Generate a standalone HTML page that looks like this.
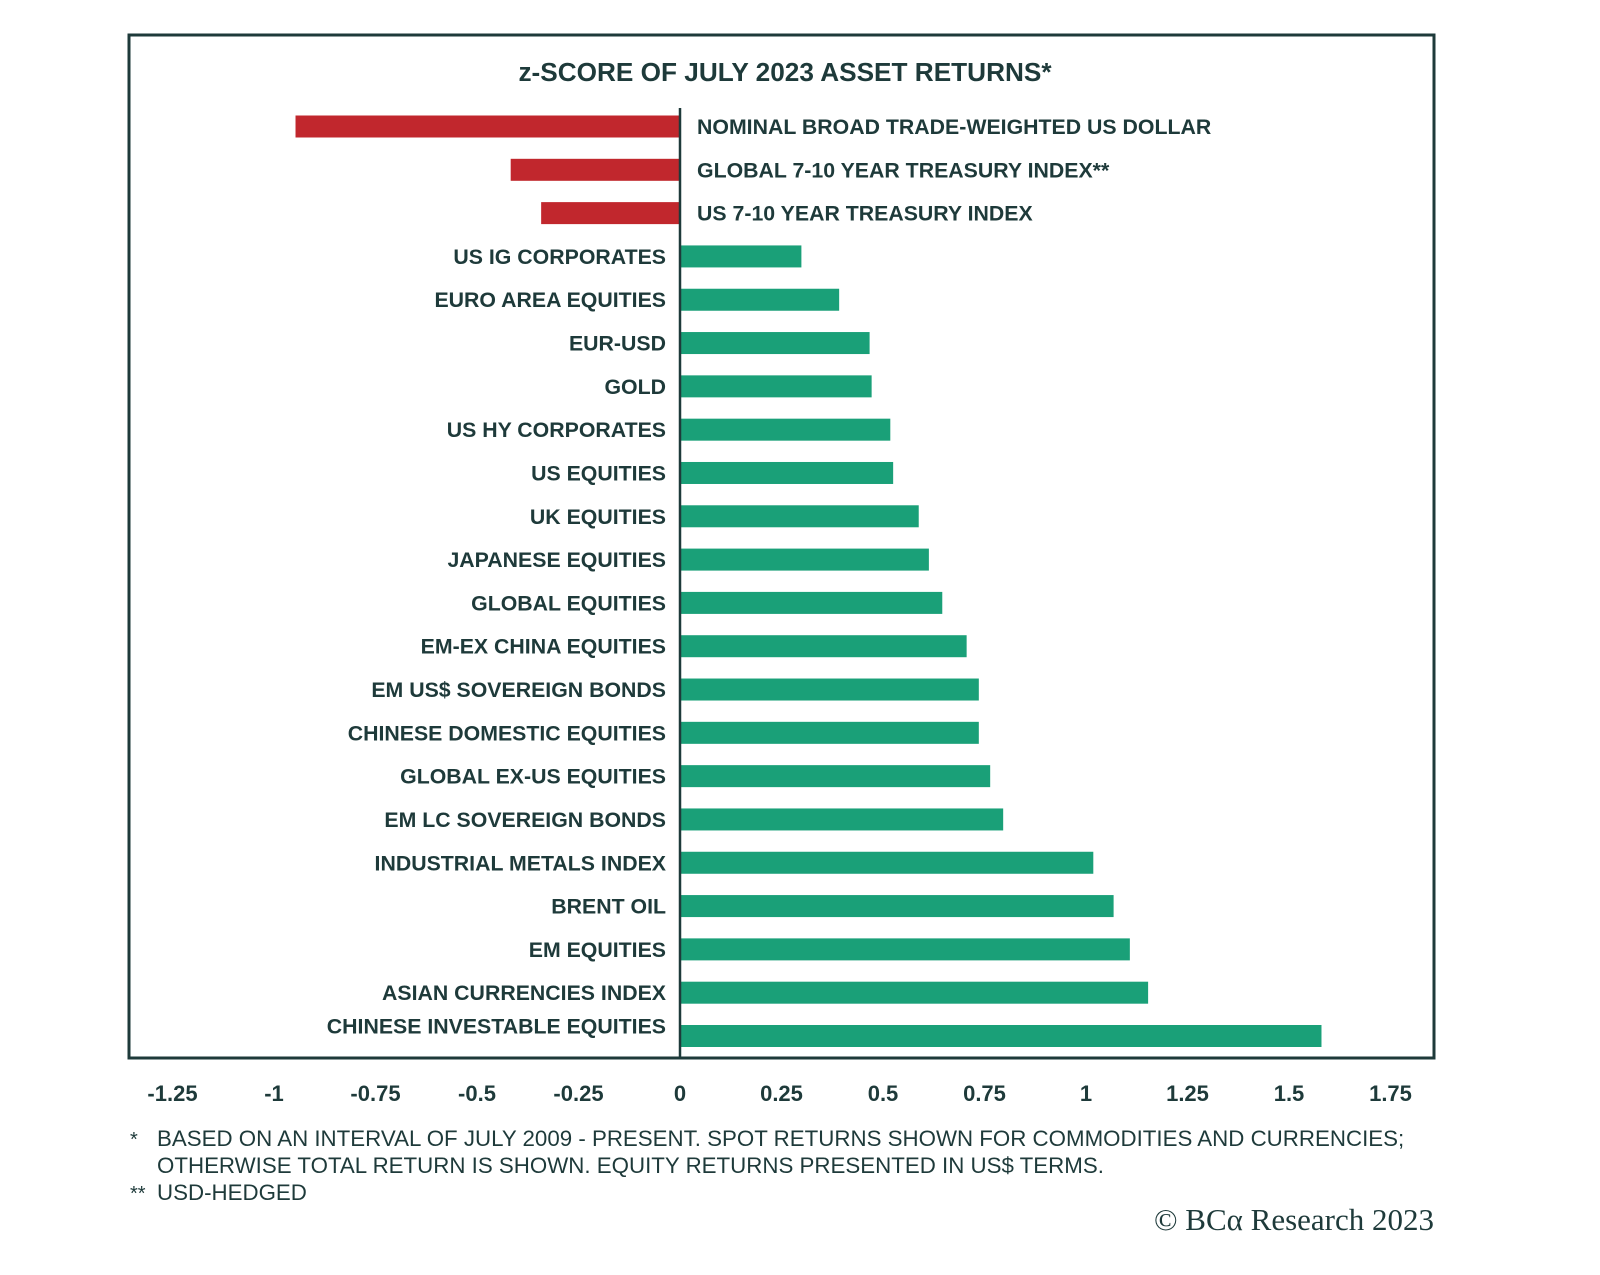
<!DOCTYPE html>
<html><head><meta charset="utf-8"><style>
body{margin:0;background:#fff;width:1600px;height:1270px;overflow:hidden}
svg text{font-family:"Liberation Sans",sans-serif;fill:#1e3a3a}
</style></head><body>
<svg id="chart" width="1600" height="1270" xmlns="http://www.w3.org/2000/svg">
<rect x="129" y="35" width="1305" height="1023" fill="none" stroke="#1e3a3a" stroke-width="3"/>
<text x="785" y="81" text-anchor="middle" font-size="26.2" font-weight="bold">z-SCORE OF JULY 2023 ASSET RETURNS*</text>
<g id="bars"></g>
<line x1="680" y1="108" x2="680" y2="1058" stroke="#1e3a3a" stroke-width="2.5"/>
<g id="ticks"></g>
<text x="130" y="1146" font-size="20">*</text>
<text x="157" y="1146" font-size="22.3">BASED ON AN INTERVAL OF JULY 2009 - PRESENT. SPOT RETURNS SHOWN FOR COMMODITIES AND CURRENCIES;</text>
<text x="157" y="1173" font-size="22.3">OTHERWISE TOTAL RETURN IS SHOWN. EQUITY RETURNS PRESENTED IN US$ TERMS.</text>
<text x="130" y="1200" font-size="20">**</text>
<text x="157" y="1200" font-size="22.3">USD-HEDGED</text>
<text x="1434" y="1230" text-anchor="end" font-size="31" style="font-family:'Liberation Serif',serif">© BCα Research 2023</text>
</svg>
<script>
const categories=["NOMINAL BROAD TRADE-WEIGHTED US DOLLAR","GLOBAL 7-10 YEAR TREASURY INDEX**","US 7-10 YEAR TREASURY INDEX","US IG CORPORATES","EURO AREA EQUITIES","EUR-USD","GOLD","US HY CORPORATES","US EQUITIES","UK EQUITIES","JAPANESE EQUITIES","GLOBAL EQUITIES","EM-EX CHINA EQUITIES","EM US$ SOVEREIGN BONDS","CHINESE DOMESTIC EQUITIES","GLOBAL EX-US EQUITIES","EM LC SOVEREIGN BONDS","INDUSTRIAL METALS INDEX","BRENT OIL","EM EQUITIES","ASIAN CURRENCIES INDEX","CHINESE INVESTABLE EQUITIES"];
const values=[-0.947,-0.417,-0.342,0.299,0.392,0.467,0.472,0.518,0.525,0.588,0.613,0.646,0.706,0.736,0.736,0.764,0.796,1.018,1.068,1.108,1.153,1.580];
const tickValues=[-1.25,-1,-0.75,-0.5,-0.25,0,0.25,0.5,0.75,1,1.25,1.5,1.75];
const tickLabels=["-1.25","-1","-0.75","-0.5","-0.25","0","0.25","0.5","0.75","1","1.25","1.5","1.75"];
const NS="http://www.w3.org/2000/svg";
function x(v){return 680+v*406;}
function yc(i){return 126.5+i*(1036-126.5)/(categories.length-1);}
const gb=document.getElementById('bars');
values.forEach((v,i)=>{
  const r=document.createElementNS(NS,'rect');
  
  
  const x0=Math.min(x(0),x(v)),w=Math.abs(x(v)-x(0));
  r.setAttribute('x',x0);r.setAttribute('y',yc(i)-11);r.setAttribute('width',w);r.setAttribute('height',22);
  r.setAttribute('fill',v<0?'#c1272d':'#1aa078');
  gb.appendChild(r);
  const t=document.createElementNS(NS,'text');
  
  
  t.setAttribute('font-size','21.3');t.setAttribute('font-weight','bold');
  t.setAttribute('y',yc(i)+7.5-(i===categories.length-1?10:0));
  if(v<0){t.setAttribute('x',697);}else{t.setAttribute('x',666);t.setAttribute('text-anchor','end');}
  t.textContent=categories[i];
  gb.appendChild(t);
});
const gt=document.getElementById('ticks');
tickValues.forEach((v,i)=>{
  const t=document.createElementNS(NS,'text');
  
  
  t.setAttribute('x',x(v));t.setAttribute('y',1101);t.setAttribute('text-anchor','middle');
  t.setAttribute('font-size','22');t.setAttribute('font-weight','bold');
  t.textContent=tickLabels[i];
  gt.appendChild(t);
});
</script>
</body></html>
